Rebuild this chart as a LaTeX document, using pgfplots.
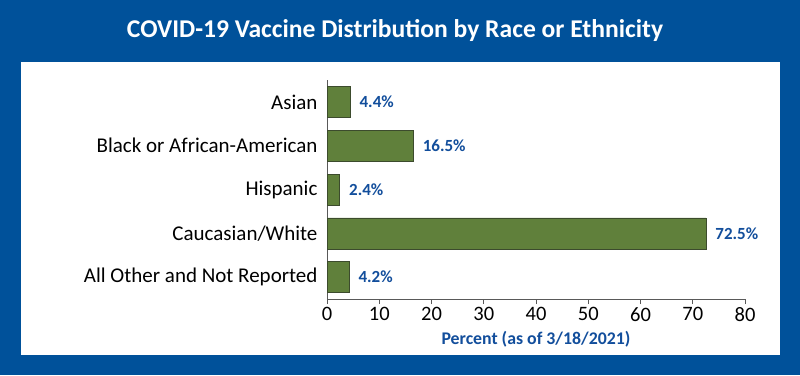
\documentclass[border=0pt]{standalone}
\usepackage{pgfplots}
\pgfplotsset{compat=1.18}
\usepackage{fontspec}
\setmainfont{Carlito}
\definecolor{bgblue}{RGB}{0,81,154}
\definecolor{barg}{RGB}{96,128,59}
\definecolor{bardk}{RGB}{60,75,45}
\definecolor{lblue}{RGB}{18,78,156}
\begin{document}
\begin{tikzpicture}
\fill[bgblue] (0pt,0pt) rectangle (800pt,375pt);
\useasboundingbox (0pt,0pt) rectangle (800pt,375pt);
\fill[white] (21pt,20pt) rectangle (780pt,313pt);
\node[text=white,font=\fontsize{25.6}{28}\selectfont\bfseries] at (395pt,344pt) {COVID-19 Vaccine Distribution by Race or Ethnicity};
\begin{axis}[
  at={(327pt,76pt)}, anchor=south west,
  scale only axis, width=418pt, height=219pt,
  xbar, bar width=31pt,
  xmin=0, xmax=80, ymin=-0.5, ymax=4.5,
  y dir=reverse,
  axis x line*=bottom, axis y line*=left,
  axis line style={-, draw=black!65, line width=0.8pt},
  xtick={0,10,...,80},
  tick align=outside,
  major tick length=5pt,
  xtick style={draw=black!65, line width=0.8pt},
  ytick={0,1,2,3,4},
  yticklabels={Asian,Black or African-American,Hispanic,Caucasian/White,All Other and Not Reported},
  ytick style={draw=none},
  yticklabel style={font=\fontsize{21}{24}\selectfont, text=black, xshift=-1pt},
  xticklabel style={font=\fontsize{20.5}{24}\selectfont, text=black},
  /pgf/number format/assume math mode=true,
  xlabel={Percent (as of 3/18/2021)},
  xlabel style={font=\fontsize{17.8}{20}\selectfont\bfseries, text=lblue, yshift=-3pt},
  nodes near coords={\pgfmathprintnumber[fixed,precision=1,fixed zerofill]{\pgfplotspointmeta}\%},
  nodes near coords style={font=\fontsize{17}{20}\selectfont\bfseries, text=lblue, anchor=west, xshift=6pt},
  point meta=x,
  clip=false,
]
\addplot[fill=barg, draw=bardk, line width=0.6pt] coordinates {
(4.4,0) (16.5,1) (2.4,2) (72.5,3) (4.2,4)};
\end{axis}
\end{tikzpicture}
\end{document}
